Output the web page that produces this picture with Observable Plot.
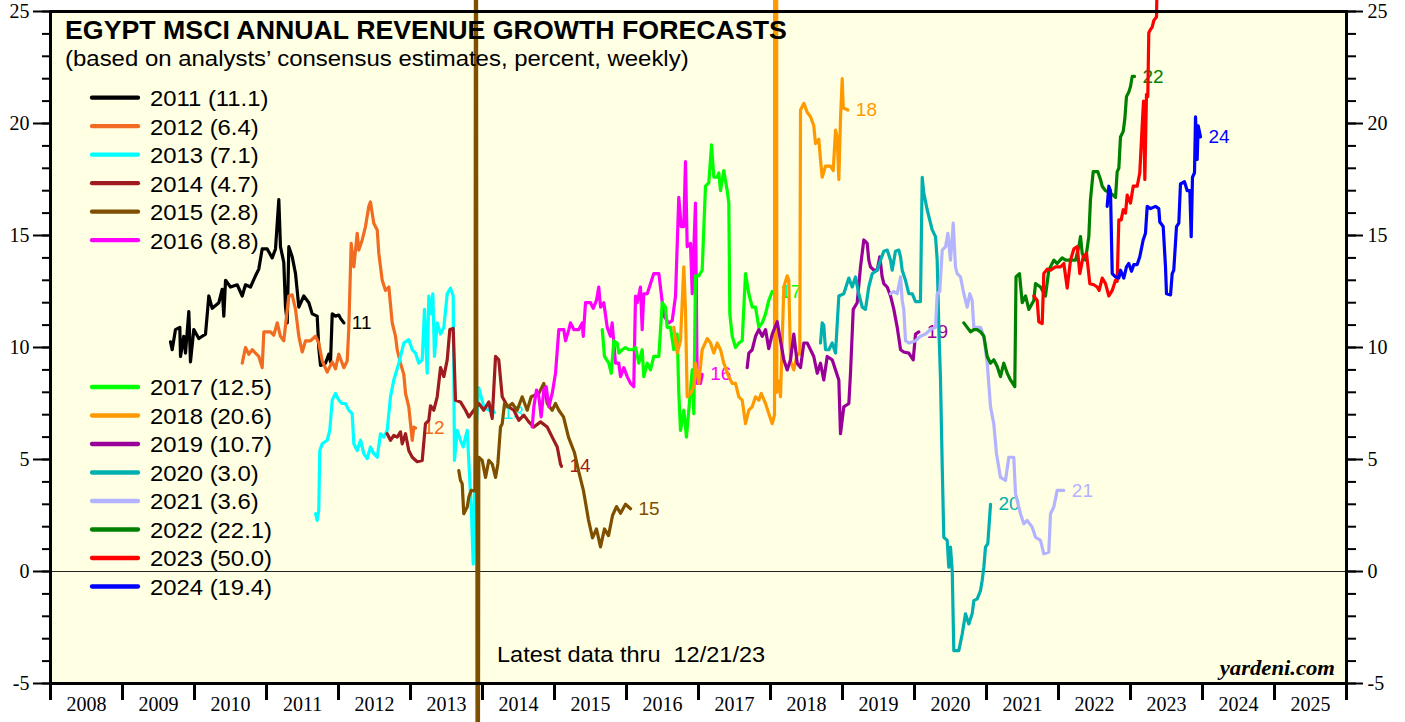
<!DOCTYPE html>
<html><head><meta charset="utf-8">
<script src="https://cdn.jsdelivr.net/npm/d3@7"></script>
<script src="https://cdn.jsdelivr.net/npm/@observablehq/plot@0.6"></script>
<style>
html,body{margin:0;padding:0;background:#fff;overflow:hidden;}
#chart{position:relative;width:1405px;height:722px;}
</style></head><body><div id="chart"></div>
<script>
// ---- data: [decimal year, forecast growth %] ----
const years = [2011,2012,2013,2014,2015,2016,2017,2018,2019,2020,2021,2022,2023,2024];
const finals = ["11.1","6.4","7.1","4.7","2.8","8.8","12.5","20.6","10.7","3.0","3.6","22.1","50.0","19.4"];
const colors = ["#000000","#f26b22","#00ffff","#9e1b20","#7f4f00","#ff00ff","#00ff00","#ff9900","#990099","#00b0b0","#b3b3ff","#008000","#ff0000","#0000ff"];
const xTickYears = d3.range(2008, 2027);
const xLabelYears = d3.range(2008, 2026);
const yMajor = [-5,0,5,10,15,20,25];
const yMinor = d3.range(-5, 26);

const s2011 = [[2009.667,10.25],[2009.690,9.9],[2009.736,10.8],[2009.796,10.9],[2009.806,9.6],[2009.851,10.5],[2009.875,9.75],[2009.921,11.6],[2009.944,9.36],[2009.990,10.8],[2010.060,10.4],[2010.153,10.6],[2010.199,12.3],[2010.246,11.75],[2010.338,12.0],[2010.385,12.6],[2010.407,11.4],[2010.431,13.0],[2010.500,12.7],[2010.593,12.8],[2010.663,12.3],[2010.708,12.8],[2010.778,12.7],[2010.847,13.2],[2010.893,13.5],[2010.940,14.4],[2011.010,14.4],[2011.079,14.0],[2011.125,14.4],[2011.171,16.6],[2011.194,14.5],[2011.240,13.8],[2011.264,11.8],[2011.288,11.1],[2011.310,14.5],[2011.357,14.05],[2011.403,13.3],[2011.449,11.8],[2011.518,12.3],[2011.588,12.0],[2011.635,11.5],[2011.704,11.4],[2011.726,10.0],[2011.750,9.2],[2011.819,9.3],[2011.865,9.7],[2011.889,9.36],[2011.913,11.5],[2011.958,11.4],[2012.004,11.45],[2012.028,11.3],[2012.074,11.1]];
const s2012 = [[2010.663,9.3],[2010.708,10.0],[2010.754,9.7],[2010.801,9.9],[2010.847,9.75],[2010.893,9.6],[2010.940,9.1],[2010.963,10.7],[2011.056,10.7],[2011.101,10.55],[2011.149,11.1],[2011.194,10.5],[2011.240,10.3],[2011.310,12.3],[2011.357,12.35],[2011.403,11.7],[2011.449,10.5],[2011.496,9.8],[2011.542,10.3],[2011.611,10.3],[2011.681,10.5],[2011.726,10.2],[2011.774,9.4],[2011.843,8.9],[2011.913,9.36],[2011.958,9.05],[2012.004,9.7],[2012.074,9.1],[2012.121,9.4],[2012.143,10.85],[2012.176,14.65],[2012.213,13.6],[2012.260,15.1],[2012.282,14.35],[2012.329,14.8],[2012.375,15.4],[2012.421,16.3],[2012.444,16.5],[2012.490,15.55],[2012.538,15.25],[2012.560,14.2],[2012.607,13.0],[2012.653,12.55],[2012.699,12.7],[2012.746,11.1],[2012.792,10.5],[2012.815,9.9],[2012.861,9.3],[2012.907,8.8],[2012.931,7.95],[2012.976,7.35],[2013.024,5.85],[2013.046,6.45],[2013.069,6.4]];
const s2013 = [[2011.681,2.58],[2011.704,2.28],[2011.726,2.73],[2011.740,5.4],[2011.774,5.7],[2011.843,5.86],[2011.879,6.3],[2011.913,7.65],[2011.958,7.95],[2012.004,7.65],[2012.051,7.5],[2012.097,7.5],[2012.143,7.2],[2012.190,7.05],[2012.213,5.7],[2012.260,5.4],[2012.306,5.86],[2012.351,5.26],[2012.399,5.04],[2012.444,5.56],[2012.490,5.26],[2012.538,5.1],[2012.583,6.15],[2012.629,6.0],[2012.676,6.3],[2012.722,7.8],[2012.768,8.55],[2012.838,9.3],[2012.907,10.2],[2012.976,10.35],[2013.024,9.9],[2013.069,9.75],[2013.115,9.3],[2013.163,9.45],[2013.194,11.7],[2013.232,8.85],[2013.254,12.3],[2013.288,11.5],[2013.310,12.4],[2013.333,9.6],[2013.371,11.1],[2013.417,10.6],[2013.463,10.9],[2013.510,12.4],[2013.556,12.65],[2013.593,12.3],[2013.611,4.96],[2013.649,6.3],[2013.694,5.86],[2013.732,5.56],[2013.764,6.0],[2013.788,6.3],[2013.847,2.6],[2013.871,0.34],[2013.903,6.0],[2013.949,8.2],[2014.018,7.35],[2014.088,7.2],[2014.111,7.4],[2014.167,7.1]];
const s2014 = [[2012.676,6.15],[2012.722,5.86],[2012.768,6.08],[2012.815,6.0],[2012.861,6.23],[2012.885,5.7],[2012.931,6.15],[2012.976,5.4],[2013.024,5.1],[2013.093,4.9],[2013.163,4.96],[2013.208,6.6],[2013.254,6.75],[2013.278,7.4],[2013.324,7.2],[2013.371,7.8],[2013.417,9.1],[2013.463,8.7],[2013.510,9.45],[2013.546,10.8],[2013.593,10.85],[2013.625,7.65],[2013.694,7.57],[2013.764,7.2],[2013.810,6.9],[2013.879,7.2],[2013.949,7.5],[2014.018,7.2],[2014.088,7.57],[2014.135,6.83],[2014.181,9.6],[2014.226,9.45],[2014.274,7.8],[2014.343,7.4],[2014.435,7.2],[2014.504,6.75],[2014.574,6.98],[2014.643,6.68],[2014.713,6.45],[2014.806,6.68],[2014.899,6.45],[2014.968,6.0],[2015.038,5.56],[2015.083,4.8],[2015.097,4.7]];
const s2015 = [[2013.671,4.5],[2013.694,4.07],[2013.718,3.92],[2013.740,2.58],[2013.788,2.88],[2013.810,3.32],[2013.843,3.62],[2013.896,3.6],[2013.910,60],[2013.931,-40],[2013.949,5.1],[2013.996,4.96],[2014.042,4.2],[2014.088,4.96],[2014.135,4.8],[2014.181,4.2],[2014.213,4.8],[2014.250,6.45],[2014.274,6.6],[2014.306,7.5],[2014.351,7.35],[2014.413,7.5],[2014.482,7.2],[2014.551,7.8],[2014.621,7.2],[2014.676,7.8],[2014.782,7.95],[2014.851,8.4],[2014.899,7.5],[2014.968,7.2],[2015.014,7.5],[2015.060,7.2],[2015.125,6.9],[2015.194,6.0],[2015.278,5.3],[2015.333,4.5],[2015.403,3.6],[2015.472,2.3],[2015.528,1.5],[2015.583,1.9],[2015.639,1.1],[2015.694,1.9],[2015.750,1.6],[2015.806,2.5],[2015.861,2.9],[2015.917,2.6],[2015.986,3.0],[2016.056,2.8]];
const s2016 = [[2014.690,6.45],[2014.713,7.35],[2014.750,8.1],[2014.782,7.8],[2014.815,6.9],[2014.851,8.1],[2014.885,8.25],[2014.921,7.35],[2014.968,7.95],[2015.014,8.85],[2015.060,10.8],[2015.129,10.8],[2015.153,10.3],[2015.199,10.8],[2015.222,11.1],[2015.268,10.8],[2015.338,10.8],[2015.385,11.1],[2015.399,10.5],[2015.431,12.0],[2015.500,12.0],[2015.538,11.75],[2015.583,12.1],[2015.615,12.7],[2015.639,11.8],[2015.685,12.0],[2015.732,10.9],[2015.778,10.5],[2015.801,11.1],[2015.847,9.3],[2015.893,9.3],[2015.917,8.7],[2015.963,9.1],[2016.010,8.7],[2016.056,8.4],[2016.101,8.25],[2016.125,12.3],[2016.149,12.0],[2016.194,12.7],[2016.218,10.8],[2016.240,12.4],[2016.288,12.4],[2016.333,12.85],[2016.379,13.3],[2016.449,13.3],[2016.472,12.7],[2016.518,11.4],[2016.588,11.1],[2016.635,11.2],[2016.681,12.3],[2016.726,16.7],[2016.760,15.4],[2016.796,15.4],[2016.819,18.3],[2016.843,14.5],[2016.889,14.65],[2016.913,12.4],[2016.958,16.45],[2016.982,8.4],[2017.028,8.4],[2017.051,8.8]];
const s2017 = [[2015.663,10.8],[2015.694,9.6],[2015.754,9.3],[2015.788,8.85],[2015.824,10.3],[2015.871,10.2],[2015.893,9.75],[2015.940,9.9],[2015.986,10.0],[2016.032,9.9],[2016.079,9.9],[2016.125,10.0],[2016.171,9.3],[2016.218,9.9],[2016.240,8.7],[2016.288,9.3],[2016.333,9.0],[2016.379,9.6],[2016.449,9.6],[2016.496,12.0],[2016.542,11.8],[2016.565,10.9],[2016.611,10.9],[2016.657,9.9],[2016.704,10.6],[2016.726,8.0],[2016.750,6.3],[2016.796,7.2],[2016.833,6.0],[2016.865,7.2],[2016.913,9.0],[2016.935,7.05],[2016.958,13.2],[2017.004,13.2],[2017.051,13.45],[2017.097,17.2],[2017.143,17.35],[2017.181,19.05],[2017.213,17.6],[2017.260,17.6],[2017.282,17.8],[2017.306,17.0],[2017.351,17.9],[2017.399,17.0],[2017.421,16.45],[2017.435,11.5],[2017.468,10.5],[2017.514,10.0],[2017.560,10.2],[2017.607,10.3],[2017.653,13.3],[2017.699,12.4],[2017.746,11.8],[2017.792,11.8],[2017.838,10.9],[2017.885,11.1],[2017.931,11.5],[2017.976,12.1],[2018.024,12.5]];
const s2018 = [[2016.657,10.9],[2016.704,9.75],[2016.750,10.3],[2016.796,13.6],[2016.819,11.7],[2016.843,7.8],[2016.889,7.95],[2016.935,8.25],[2016.958,9.3],[2017.004,8.4],[2017.051,9.9],[2017.121,10.4],[2017.167,10.2],[2017.213,9.75],[2017.260,10.2],[2017.306,9.9],[2017.351,9.3],[2017.421,8.7],[2017.468,8.4],[2017.514,8.4],[2017.560,7.8],[2017.607,7.65],[2017.653,6.6],[2017.699,7.2],[2017.746,7.35],[2017.792,7.8],[2017.838,7.65],[2017.871,7.95],[2017.931,7.5],[2017.976,7.05],[2018.024,6.6],[2018.056,7.0],[2018.060,60],[2018.083,60],[2018.0875,8.0],[2018.115,8.5],[2018.139,7.8],[2018.185,12.7],[2018.232,13.2],[2018.254,13.0],[2018.278,9.4],[2018.324,9.0],[2018.371,9.7],[2018.407,9.7],[2018.417,20.6],[2018.463,20.9],[2018.510,20.5],[2018.556,20.3],[2018.601,19.9],[2018.625,19.1],[2018.671,19.3],[2018.694,18.4],[2018.718,17.6],[2018.764,18.1],[2018.833,18.1],[2018.871,17.9],[2018.903,19.7],[2018.926,19.4],[2018.949,17.5],[2018.972,20.2],[2018.996,22.0],[2019.010,20.7],[2019.074,20.6]];
const s2019 = [[2017.676,9.1],[2017.699,9.75],[2017.746,9.9],[2017.792,10.5],[2017.838,10.8],[2017.885,10.5],[2017.931,10.8],[2017.976,9.95],[2018.024,10.6],[2018.093,11.15],[2018.139,10.3],[2018.185,9.45],[2018.232,9.0],[2018.278,9.45],[2018.324,10.6],[2018.371,9.3],[2018.417,9.1],[2018.463,10.2],[2018.510,10.2],[2018.556,9.9],[2018.601,9.6],[2018.649,8.85],[2018.694,9.3],[2018.740,8.55],[2018.788,9.6],[2018.857,9.45],[2018.903,9.0],[2018.949,8.55],[2018.972,6.15],[2019.018,7.35],[2019.088,7.5],[2019.111,8.85],[2019.149,11.7],[2019.204,12.0],[2019.250,13.6],[2019.296,14.8],[2019.343,14.65],[2019.365,13.9],[2019.389,13.6],[2019.435,13.45],[2019.482,13.45],[2019.518,14.05],[2019.551,13.15],[2019.574,12.85],[2019.621,12.7],[2019.667,12.3],[2019.713,11.7],[2019.760,10.9],[2019.806,9.9],[2019.851,9.8],[2019.921,9.75],[2019.982,9.45],[2020.014,10.6],[2020.060,10.7]];
const s2020 = [[2018.694,10.2],[2018.718,11.1],[2018.740,11.0],[2018.764,9.9],[2018.810,9.9],[2018.857,10.2],[2018.903,9.75],[2018.949,12.3],[2019.018,12.4],[2019.088,13.1],[2019.135,12.7],[2019.181,13.15],[2019.226,12.4],[2019.274,11.8],[2019.319,11.7],[2019.365,12.7],[2019.413,13.3],[2019.482,13.45],[2019.528,13.9],[2019.574,14.3],[2019.621,14.35],[2019.667,13.9],[2019.690,13.45],[2019.736,14.3],[2019.782,14.35],[2019.806,14.05],[2019.829,13.45],[2019.875,13.0],[2019.921,12.4],[2019.968,12.4],[2020.014,12.05],[2020.083,12.05],[2020.107,17.6],[2020.129,16.9],[2020.176,16.15],[2020.246,15.25],[2020.292,14.95],[2020.315,13.9],[2020.338,10.9],[2020.361,8.6],[2020.385,4.7],[2020.407,1.53],[2020.454,1.39],[2020.476,0.19],[2020.500,1.09],[2020.524,0.04],[2020.546,-3.53],[2020.615,-3.53],[2020.663,-2.79],[2020.708,-1.89],[2020.754,-2.34],[2020.801,-1.89],[2020.824,-1.3],[2020.871,-1.22],[2020.917,-0.85],[2020.940,-0.4],[2020.963,0.19],[2020.986,1.09],[2021.018,1.24],[2021.056,3.0]];
const s2021 = [[2019.667,12.4],[2019.713,12.5],[2019.760,12.4],[2019.806,13.15],[2019.829,12.1],[2019.851,11.7],[2019.875,10.3],[2019.921,10.2],[2019.968,10.25],[2020.014,10.3],[2020.083,10.5],[2020.153,10.6],[2020.222,10.8],[2020.292,10.9],[2020.315,12.4],[2020.351,12.5],[2020.385,14.35],[2020.431,14.5],[2020.463,15.1],[2020.500,13.9],[2020.538,15.55],[2020.569,13.6],[2020.593,13.3],[2020.639,13.15],[2020.685,12.4],[2020.732,11.8],[2020.768,12.4],[2020.801,12.1],[2020.824,10.9],[2020.917,10.9],[2020.963,10.5],[2021.010,9.3],[2021.056,7.35],[2021.101,6.6],[2021.139,5.26],[2021.194,4.2],[2021.264,4.07],[2021.310,5.1],[2021.379,5.1],[2021.403,3.47],[2021.426,3.18],[2021.472,2.58],[2021.518,2.13],[2021.565,2.28],[2021.635,1.98],[2021.681,1.53],[2021.750,1.39],[2021.796,0.79],[2021.865,0.86],[2021.889,2.58],[2021.935,2.88],[2021.982,3.62],[2022.074,3.62]];
const s2022 = [[2020.685,11.1],[2020.732,10.9],[2020.778,10.7],[2020.824,10.8],[2020.871,10.8],[2020.917,10.7],[2020.963,10.5],[2021.010,9.6],[2021.056,9.3],[2021.101,9.45],[2021.149,9.15],[2021.194,8.7],[2021.240,9.3],[2021.288,8.85],[2021.333,8.55],[2021.393,8.25],[2021.410,13.15],[2021.458,13.3],[2021.496,12.0],[2021.542,12.3],[2021.588,11.7],[2021.657,12.1],[2021.681,12.85],[2021.750,12.7],[2021.819,12.3],[2021.865,13.45],[2021.935,13.9],[2021.982,13.75],[2022.051,14.0],[2022.097,13.9],[2022.167,13.9],[2022.236,13.9],[2022.282,14.5],[2022.306,14.95],[2022.329,14.2],[2022.375,13.9],[2022.421,14.95],[2022.444,16.6],[2022.482,17.85],[2022.546,17.85],[2022.583,17.5],[2022.607,17.2],[2022.653,17.0],[2022.699,16.95],[2022.760,16.8],[2022.792,16.7],[2022.815,17.85],[2022.838,18.0],[2022.861,19.4],[2022.899,19.65],[2022.921,20.2],[2022.944,21.2],[2022.976,21.4],[2023.000,21.65],[2023.024,22.1],[2023.056,22.1]];
const s2023 = [[2021.657,12.3],[2021.704,12.1],[2021.726,11.15],[2021.774,11.07],[2021.796,13.3],[2021.843,13.5],[2021.889,13.45],[2021.958,13.6],[2022.028,13.6],[2022.074,13.75],[2022.121,12.65],[2022.167,13.9],[2022.213,14.4],[2022.260,14.5],[2022.296,13.3],[2022.343,14.05],[2022.389,14.2],[2022.435,12.85],[2022.490,12.8],[2022.537,12.7],[2022.565,12.55],[2022.607,13.1],[2022.653,12.85],[2022.699,12.3],[2022.746,12.55],[2022.792,13.0],[2022.815,12.95],[2022.838,15.7],[2022.871,15.7],[2022.899,16.15],[2022.931,16.0],[2022.954,16.8],[2023.000,16.45],[2023.038,17.2],[2023.093,17.2],[2023.129,17.8],[2023.163,19.95],[2023.181,21.0],[2023.199,17.5],[2023.222,21.3],[2023.240,21.2],[2023.254,24.05],[2023.278,24.2],[2023.301,24.3],[2023.324,24.6],[2023.361,24.75],[2023.390,30],[2023.600,40],[2023.972,50.0]];
const s2024 = [[2022.676,16.3],[2022.699,17.2],[2022.722,17.0],[2022.746,13.3],[2022.792,13.15],[2022.838,13.1],[2022.861,13.45],[2022.907,13.1],[2022.944,13.6],[2022.976,13.75],[2023.014,13.4],[2023.046,13.7],[2023.093,13.7],[2023.129,14.05],[2023.176,14.8],[2023.208,15.1],[2023.232,16.3],[2023.278,16.2],[2023.347,16.3],[2023.393,16.2],[2023.407,15.6],[2023.454,15.4],[2023.486,13.6],[2023.500,12.4],[2023.556,12.35],[2023.579,13.3],[2023.601,13.45],[2023.639,15.4],[2023.671,15.55],[2023.694,17.3],[2023.750,17.4],[2023.788,17.0],[2023.824,17.0],[2023.843,14.95],[2023.861,17.6],[2023.889,17.8],[2023.903,20.3],[2023.926,18.4],[2023.940,19.9],[2023.972,19.4]];

const seriesList = [s2011,s2012,s2013,s2014,s2015,s2016,s2017,s2018,s2019,s2020,s2021,s2022,s2023,s2024];

// ---- build tables ----
const rows = seriesList.flatMap((s, i) => s.map(([t, v]) => ({year: years[i], t, v})));
const ends = seriesList
  .map((s, i) => ({year: years[i], t: s[s.length-1][0], v: s[s.length-1][1], label: String(years[i]).slice(2)}))
  .filter(d => d.v <= 25); // labels of series ending off the chart are not visible

const serif = "'Liberation Serif','Times New Roman',serif";
const sans = "'Liberation Sans',Arial,Helvetica,sans-serif";

const plot = Plot.plot({
  width: 1405, height: 722,
  marginLeft: 50, marginRight: 59, marginTop: 11, marginBottom: 39,
  style: {fontFamily: serif, fontSize: "20px", background: "white", color: "black"},
  x: {domain: [2008, 2026], axis: null},
  y: {domain: [-5, 25], axis: null},
  color: {type: "ordinal", domain: years, range: colors},
  marks: [
    Plot.frame({fill: "#ffffe3", stroke: "none"}),
    Plot.ruleY([0], {stroke: "#222", strokeWidth: 1.2}),
    Plot.text(ends, {x: "t", y: "v", text: "label", fill: "year", dx: 8, textAnchor: "start", fontFamily: sans, fontSize: 19}),
    Plot.line(rows, {x: "t", y: "v", z: "year", stroke: "year", strokeWidth: 3.2, strokeLinejoin: "round"}),
    Plot.frame({stroke: "black", strokeWidth: 3}),
    Plot.axisY(yMinor, {anchor: "left", label: null, tickSize: 8, tickFormat: () => "", strokeWidth: 2}),
    Plot.axisY(yMajor, {anchor: "left", label: null, tickSize: 17, tickPadding: 4, tickFormat: d => String(d), strokeWidth: 2, fontSize: 20}),
    Plot.axisY(yMinor, {anchor: "right", label: null, tickSize: 9, tickFormat: () => "", strokeWidth: 2}),
    Plot.axisY(yMajor, {anchor: "right", label: null, tickSize: 16, tickPadding: 5, tickFormat: d => String(d), strokeWidth: 2, fontSize: 20}),
    Plot.axisX(xTickYears, {anchor: "bottom", label: null, tickSize: 17, tickFormat: () => "", strokeWidth: 3}),
    Plot.axisX(xLabelYears.map(y => y + 0.5), {anchor: "bottom", label: null, tickSize: 0, tickPadding: 13, tickFormat: d => String(Math.floor(d)), fontSize: 20})
  ]
});
document.getElementById("chart").appendChild(plot);

// ---- annotations: title, subtitle, legend, notes ----
const svg = d3.select(plot);
const g = svg.append("g");
function addText(x, y, str, size, o = {}) {
  return g.append("text")
    .attr("transform", `translate(${x},${y}) scale(${o.sx ?? 1.07},1)`)
    .attr("font-family", o.family || sans)
    .attr("font-size", size)
    .attr("font-weight", o.weight || "normal")
    .attr("font-style", o.style || "normal")
    .attr("text-anchor", o.anchor || "start")
    .attr("fill", o.fill || "black")
    .style("white-space", "pre")
    .text(str);
}
addText(65, 39, "EGYPT MSCI ANNUAL REVENUE GROWTH FORECASTS", 25, {weight: "bold"});
addText(65, 66, "(based on analysts\u2019 consensus estimates, percent, weekly)", 22.4);
years.forEach((yr, i) => {
  const yc = i < 6 ? 97.7 + i * 28.5 : 387 + (i - 6) * 28.5;
  g.append("line").attr("x1", 92).attr("x2", 138).attr("y1", yc).attr("y2", yc)
    .attr("stroke", colors[i]).attr("stroke-width", 4.3).attr("stroke-linecap", "round");
  addText(150, yc + 8.3, `${yr} (${finals[i]})`, 22.3);
});
addText(497, 662, "Latest data thru  12/21/23", 22);
addText(1335, 675, "yardeni.com", 21, {family: serif, weight: "bold", style: "italic", anchor: "end", sx: 1.08});
</script></body></html>
